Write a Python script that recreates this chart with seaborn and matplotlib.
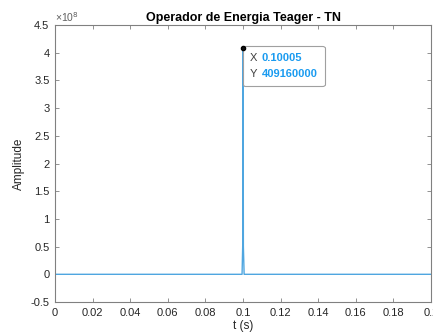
import matplotlib
matplotlib.use("Agg")
import matplotlib.pyplot as plt
from matplotlib.ticker import FuncFormatter, MultipleLocator
from matplotlib.offsetbox import TextArea, HPacker, VPacker, AnnotationBbox
import seaborn as sns
import pandas as pd

# Data
t_values = [0.0, 0.0995, 0.0999, 0.10005, 0.1002, 0.1006, 0.2]
amplitude = [0.0, 0.0, 0.6e8, 4.0916e8, 0.5e8, 0.0, 0.0]
tip_x_label = "0.10005"
tip_y_label = "409160000"
peak_t = 0.10005
peak_amp = 4.0916e8

sns.set_style("white")
plt.rcParams['font.family'] = ['Liberation Sans', 'DejaVu Sans']

df = pd.DataFrame({"t": t_values, "a": amplitude})

fig = plt.figure(figsize=(4.33, 3.35), dpi=100)
ax = fig.add_axes([55/433, 1-302/335, 376/433, 277/335])

sns.lineplot(data=df, x="t", y="a", ax=ax, color="#4FA6E0", linewidth=1.0,
             sort=False, estimator=None)

ax.set_xlim(0, 0.2)
ax.set_ylim(-0.5e8, 4.5e8)
ax.xaxis.set_major_locator(MultipleLocator(0.02))
ax.yaxis.set_major_locator(MultipleLocator(0.5e8))
ax.xaxis.set_major_formatter(FuncFormatter(lambda v, p: "%g" % round(v, 4)))
ax.yaxis.set_major_formatter(FuncFormatter(lambda v, p: "%g" % round(v / 1e8, 4)))

for s in ax.spines.values():
    s.set_color("#808080")
    s.set_linewidth(0.8)
ax.tick_params(direction="in", length=3, width=0.6, colors="#808080",
               labelcolor="#262626", labelsize=8, top=True, right=True,
               bottom=True, left=True, pad=4)

ax.set_xlabel("t (s)", fontsize=8.5, color="#262626", labelpad=2)
ax.set_ylabel("Amplitude", fontsize=8.5, color="#262626", labelpad=4)
ax.set_title("Operador de Energia Teager - TN", fontsize=9,
             fontweight="bold", color="#000000", pad=3)
ax.text(0.0, 1.005, "\u00d710$^{8}$", transform=ax.transAxes, fontsize=7.5,
        color="#606060", ha="left", va="bottom")

# Data tip
ax.plot([peak_t], [peak_amp], marker="o", markersize=3, color="#111111",
        markeredgecolor="#000000", zorder=5)

lab_props = dict(fontsize=8, color="#404040")
val_props = dict(fontsize=8, color="#1A9BF0", fontweight="bold")
row1 = HPacker(children=[TextArea("X", textprops=lab_props),
                         TextArea(tip_x_label, textprops=val_props)],
               pad=0, sep=3, align="baseline")
row2 = HPacker(children=[TextArea("Y", textprops=lab_props),
                         TextArea(tip_y_label, textprops=val_props)],
               pad=0, sep=3, align="baseline")
packed = VPacker(children=[row1, row2], pad=0, sep=4, align="left")
ab = AnnotationBbox(packed, (peak_t, peak_amp), xybox=(5, -4),
                    xycoords="data", boxcoords="offset points",
                    box_alignment=(0, 1), pad=0.5, frameon=True,
                    bboxprops=dict(boxstyle="round,pad=0.5,rounding_size=0.15",
                                   fc="white", ec="#a0a0a0", lw=0.8))
ax.add_artist(ab)

fig.savefig("out.png", dpi=100)
